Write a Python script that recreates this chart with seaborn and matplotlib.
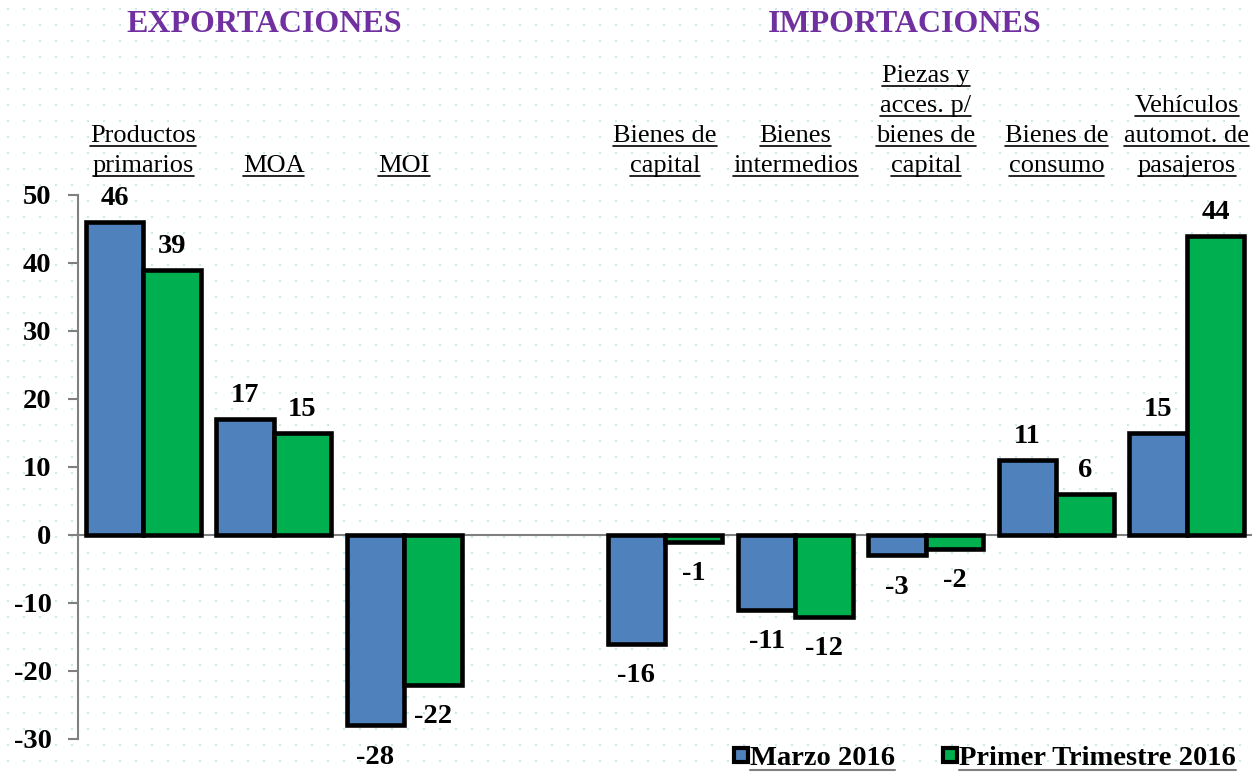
import numpy as np
import pandas as pd
import matplotlib.pyplot as plt
import seaborn as sns
from matplotlib.lines import Line2D

# data
exportaciones = ['Productos\nprimarios', 'MOA', 'MOI']
importaciones = ['Bienes de\ncapital', 'Bienes\nintermedios',
                 'Piezas y\nacces. p/\nbienes de\ncapital',
                 'Bienes de\nconsumo', 'Vehículos\nautomot. de\npasajeros']
marzo = [46, 17, -28, -16, -11, -3, 11, 15]
trimestre = [39, 15, -22, -1, -12, -2, 6, 44]
series = ['Marzo 2016', 'Primer Trimestre 2016']
colores = ['#4F81BD', '#00B050']
titulos = ['EXPORTACIONES', 'IMPORTACIONES']
yticks = [-30, -20, -10, 0, 10, 20, 30, 40, 50]

categorias = exportaciones + importaciones
orden = exportaciones + [' '] + importaciones

df = pd.DataFrame({
    'categoria': categorias * 2,
    'serie': [series[0]] * len(categorias) + [series[1]] * len(categorias),
    'valor': marzo + trimestre,
})

sns.set_style('white')
plt.rcParams['font.family'] = ['Liberation Serif', 'DejaVu Serif']
plt.rcParams['text.color'] = 'black'
plt.rcParams['ytick.labelcolor'] = 'black'

W, H = 1254, 772
fig = plt.figure(figsize=(W / 100, H / 100), dpi=100)
fig.patch.set_facecolor('white')

# dotted page background
bg = np.ones((H, W, 3))
for yy in range(8, H, 16):
    for xx in range(7, W, 16):
        bg[yy:yy + 2, xx:xx + 2] = (0.8, 0.91, 0.93)
fig.figimage(bg, xo=0, yo=0, zorder=-5)

ax = fig.add_axes([78 / W, 1 - 739 / H, (1252 - 78) / W, (739 - 195) / H])
ax.set_facecolor('none')

sns.barplot(data=df, x='categoria', y='valor', hue='serie', order=orden,
            hue_order=series, palette=colores, saturation=1, width=0.88,
            edgecolor='black', linewidth=3.3, errorbar=None, legend=False,
            ax=ax)

ax.set_xlim(-0.5, len(orden) - 0.5)
ax.set_ylim(-30, 50)
ax.set_yticks(yticks)
ax.set_yticklabels([str(t) for t in yticks], fontsize=20.5, fontweight='bold',
                   color='black')
ax.tick_params(axis='y', length=7, width=1.5, color='#808080', pad=12,
               direction='out', left=True)
ax.set_xticks([])
ax.set_xlabel('')
ax.set_ylabel('')
for s in ['top', 'right', 'bottom']:
    ax.spines[s].set_visible(False)
ax.spines['left'].set_color('#808080')
ax.spines['left'].set_linewidth(1.5)
ax.axhline(0, color='#808080', lw=1.5, zorder=0.5)

# value labels from drawn bars
for cont in ax.containers:
    for bar in cont:
        h = bar.get_height()
        if np.isnan(h):
            continue
        xc = bar.get_x() + bar.get_width() / 2
        if h >= 0:
            ax.annotate(f'{h:.0f}', (xc, h), xytext=(0, 8), textcoords='offset points',
                        ha='center', va='bottom', fontsize=20.5, fontweight='bold')
        else:
            ax.annotate(f'{h:.0f}', (xc, h), xytext=(0, -14), textcoords='offset points',
                        ha='center', va='top', fontsize=20.5, fontweight='bold')

# category labels above the plot, one text per line
cat_texts = []
for i, cat in enumerate(orden):
    if not cat.strip():
        continue
    lineas = cat.split('\n')
    for k, linea in enumerate(reversed(lineas)):
        t = ax.annotate(linea, (i, 1), xycoords=('data', 'axes fraction'),
                        xytext=(0, 16.5 + k * 21.6), textcoords='offset points',
                        ha='center', va='baseline', fontsize=19)
        cat_texts.append(t)

# titles
for xx, titulo in zip([264 / W, 905 / W], titulos):
    fig.text(xx, 1 - 25 / H, titulo, ha='center', va='center', fontsize=23,
             fontweight='bold', color='#7030A0')

# legend
handles = [Line2D([], [], ls='none', marker='s', markersize=10.5,
                  markerfacecolor=c, markeredgecolor='black', markeredgewidth=3)
           for c in colores]
leg = fig.legend(handles, series, loc='center right',
                 bbox_to_anchor=(1247 / W, 1 - 758 / H), ncol=2, frameon=False,
                 prop={'size': 20.5, 'weight': 'bold'}, handletextpad=0.02,
                 columnspacing=1.62, handlelength=0.6, borderaxespad=0)

# underlines
fig.canvas.draw()
r = fig.canvas.get_renderer()
inv = fig.transFigure.inverted()


def underline(txt, color, lw):
    bb = txt.get_window_extent(r)
    (x0, y0), (x1, _) = inv.transform([(bb.x0, bb.y0 + 1), (bb.x1, bb.y0 + 1)])
    fig.add_artist(Line2D([x0, x1], [y0, y0], transform=fig.transFigure,
                          color=color, lw=lw))


for t in cat_texts:
    underline(t, 'black', 1.2)
for t in leg.get_texts():
    underline(t, '#808080', 1.5)

fig.savefig('out.png', dpi=100)
